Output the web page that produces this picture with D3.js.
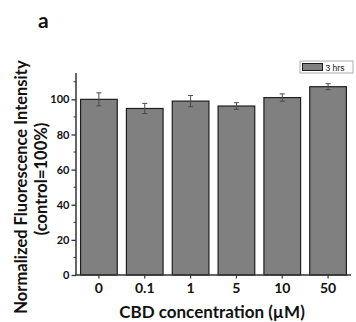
<!DOCTYPE html>
<html>
<head>
<meta charset="utf-8">
<script src="https://cdn.jsdelivr.net/npm/d3@7"></script>
<style>
  body { margin: 0; background: #fff; }
  text { font-family: Lato, "Open Sans", sans-serif; }
</style>
</head>
<body>
<svg id="chart" width="356" height="322"></svg>
<script>
// data
var concentrations = ["0", "0.1", "1", "5", "10", "50"];
var intensity = [100, 94.8, 99, 96.2, 101, 107.2];
var errors = [3.7, 2.9, 3.2, 1.9, 2.1, 1.7];
var yTicks = [0, 20, 40, 60, 80, 100];
var yMinor = [10, 30, 50, 70, 90, 110];
var legendLabel = "3 hrs";

var svg = d3.select("#chart");
var plotL = 76, plotR = 351, plotT = 73, plotB = 275;

var x = d3.scaleBand().domain(concentrations).range([plotL, plotR]).paddingInner(0.2).paddingOuter(0.1);
var y = d3.scaleLinear().domain([0, 115]).range([plotB, plotT]);

var rows = concentrations.map((c, i) => ({c: c, v: intensity[i], e: errors[i]}));

// bars
svg.selectAll("rect.bar")
  .data(rows)
  .enter()
  .append("rect")
  .attr("class", "bar")
  .attr("x", d => x(d.c))
  .attr("width", x.bandwidth())
  .attr("y", d => y(d.v))
  .attr("height", d => y(0) - y(d.v))
  .attr("fill", "#808080")
  .attr("stroke", "#1e1e1e")
  .attr("stroke-width", 1.2);

// error bars
var cx = d => x(d.c) + x.bandwidth() / 2;
var eb = svg.selectAll("g.err").data(rows).enter().append("g").attr("class", "err")
  .attr("stroke", "#4a4a4a").attr("stroke-width", 1);
eb.append("line")
  .attr("x1", cx).attr("x2", cx)
  .attr("y1", d => y(d.v + d.e)).attr("y2", d => y(d.v - d.e));
[1, -1].forEach(s => {
  eb.append("line")
    .attr("x1", d => cx(d) - 2.5).attr("x2", d => cx(d) + 2.5)
    .attr("y1", d => y(d.v + s * d.e)).attr("y2", d => y(d.v + s * d.e));
});

// y axis
var yAxis = d3.axisLeft(y).tickValues(yTicks).tickSize(4.5).tickPadding(2);
var gy = svg.append("g").attr("transform", `translate(${plotL},0)`).call(yAxis);
gy.select(".domain").attr("d", `M0,${plotT}V${plotB}`).attr("stroke", "#333").attr("stroke-width", 1.5);
gy.selectAll(".tick line").attr("stroke", "#333").attr("stroke-width", 1.3);
gy.selectAll(".tick text").attr("font-size", 11).attr("font-weight", "bold").attr("fill", "#111")
  .style("font-family", "Lato, sans-serif");
// minor ticks
gy.selectAll("line.minor")
  .data(yMinor)
  .enter().append("line").attr("class", "minor")
  .attr("x1", -2.5).attr("x2", 0)
  .attr("y1", d => y(d)).attr("y2", d => y(d))
  .attr("stroke", "#333").attr("stroke-width", 1);

// x axis
var xAxis = d3.axisBottom(x).tickSize(3.5).tickPadding(5);
var gx = svg.append("g").attr("transform", `translate(0,${plotB})`).call(xAxis);
gx.select(".domain").attr("d", `M${plotL - 1},0H${plotR}`).attr("stroke", "#333").attr("stroke-width", 1.5);
gx.selectAll(".tick line").attr("stroke", "#333").attr("stroke-width", 1.2);
gx.selectAll(".tick text").attr("font-size", 14).attr("font-weight", "bold").attr("fill", "#111")
  .style("font-family", "Lato, sans-serif");

// axis titles
svg.append("text")
  .attr("x", 212).attr("y", 318)
  .attr("text-anchor", "middle")
  .attr("font-size", 17).attr("font-weight", "bold").attr("fill", "#111")
  .text("CBD concentration (µM)");

svg.append("text")
  .attr("transform", "translate(27,187) rotate(-90)")
  .attr("text-anchor", "middle")
  .attr("font-size", 16.5).attr("font-weight", "bold").attr("fill", "#111")
  .text("Normalized Fluorescence Intensity");
svg.append("text")
  .attr("transform", "translate(47,179) rotate(-90)")
  .attr("text-anchor", "middle")
  .attr("font-size", 16.5).attr("font-weight", "bold").attr("fill", "#111")
  .text("(control=100%)");

// panel letter
svg.append("text")
  .attr("x", 38).attr("y", 28)
  .attr("font-size", 21).attr("font-weight", "bold").attr("fill", "#111")
  .text("a");

// legend
var lg = svg.append("g").attr("transform", "translate(300,61)");
lg.append("rect").attr("width", 53).attr("height", 12)
  .attr("fill", "#fff").attr("stroke", "#999").attr("stroke-width", 0.8);
lg.append("rect").attr("x", 2.5).attr("y", 2.5).attr("width", 20).attr("height", 7)
  .attr("fill", "#808080").attr("stroke", "#1e1e1e").attr("stroke-width", 1);
lg.append("text").attr("x", 25.5).attr("y", 9.5)
  .attr("font-size", 8.5).attr("fill", "#111")
  .style("font-family", "'Liberation Sans', Arial, sans-serif")
  .text(legendLabel);
</script>
</body>
</html>
